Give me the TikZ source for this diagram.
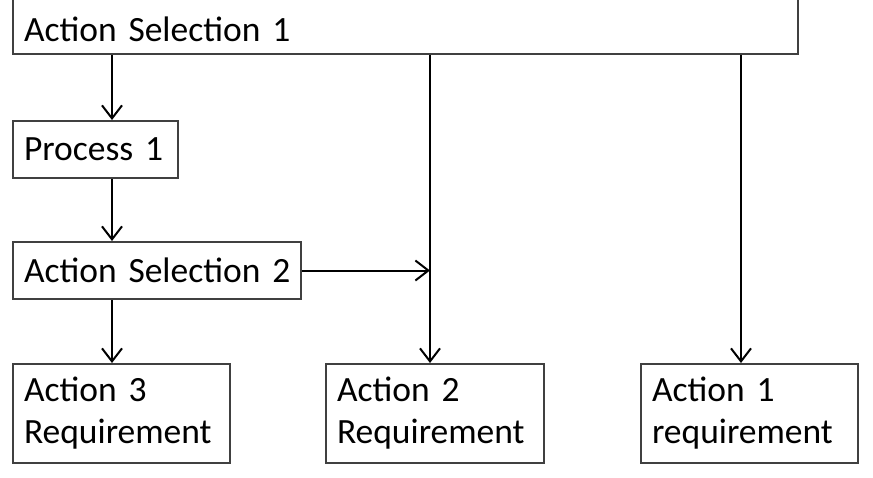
\documentclass[tikz,border=0pt]{standalone}
\usepackage{fontspec}
\setmainfont{Carlito}[WordSpace=0.7]
\usetikzlibrary{arrows.meta,positioning}
\hyphenpenalty=10000

\begin{document}
\begin{tikzpicture}[x=1pt,y=-1pt,line width=2pt,
    box/.style={draw=black!75,rectangle,align=left,inner xsep=11pt,
      font=\fontsize{35.5}{42}\selectfont,anchor=north west},
    arr/.style={-{Straight Barb[length=13pt,width=20pt]}}]
    \useasboundingbox (0,0) rectangle (873,477);
    \def\colA{112}\def\colB{430}\def\colC{741}
    \path (\colA,0) coordinate (c1) (\colB,0) coordinate (c2) (\colC,0) coordinate (c3);
    % boxes
    \node[box,anchor=south west,text width=763pt,text height=52pt,text depth=8pt,inner ysep=5pt]
      (as1) at (12,55) {Action~Selection~1};
    \node[box,text width=143pt,minimum height=57pt] (p1) at (12,120) {Process~1};
    \node[box,text width=266pt,minimum height=57pt] (as2) at (12,241) {Action~Selection~2};
    \node[box,text width=195pt,minimum height=99pt] (act3) at (12,363) {Action~3\\Requirement};
    \node[box,text width=196pt,minimum height=99pt] (act2) at (325,363) {Action~2\\Requirement};
    \node[box,text width=195pt,minimum height=99pt] (act1) at (640,363) {Action~1\\requirement};
    % arrows
    \draw[arr] (as1.south -| c1) -- (p1.north -| c1);
    \draw[arr] (p1.south -| c1) -- (as2.north -| c1);
    \draw[arr] (as2.south -| c1) -- (act3.north -| c1);
    \draw[arr] (as1.south -| c2) -- (act2.north -| c2);
    \draw[arr] (as1.south -| c3) -- (act1.north -| c3);
    \draw[arr] (as2.east) -- (as2.east -| c2);
\end{tikzpicture}
\end{document}
